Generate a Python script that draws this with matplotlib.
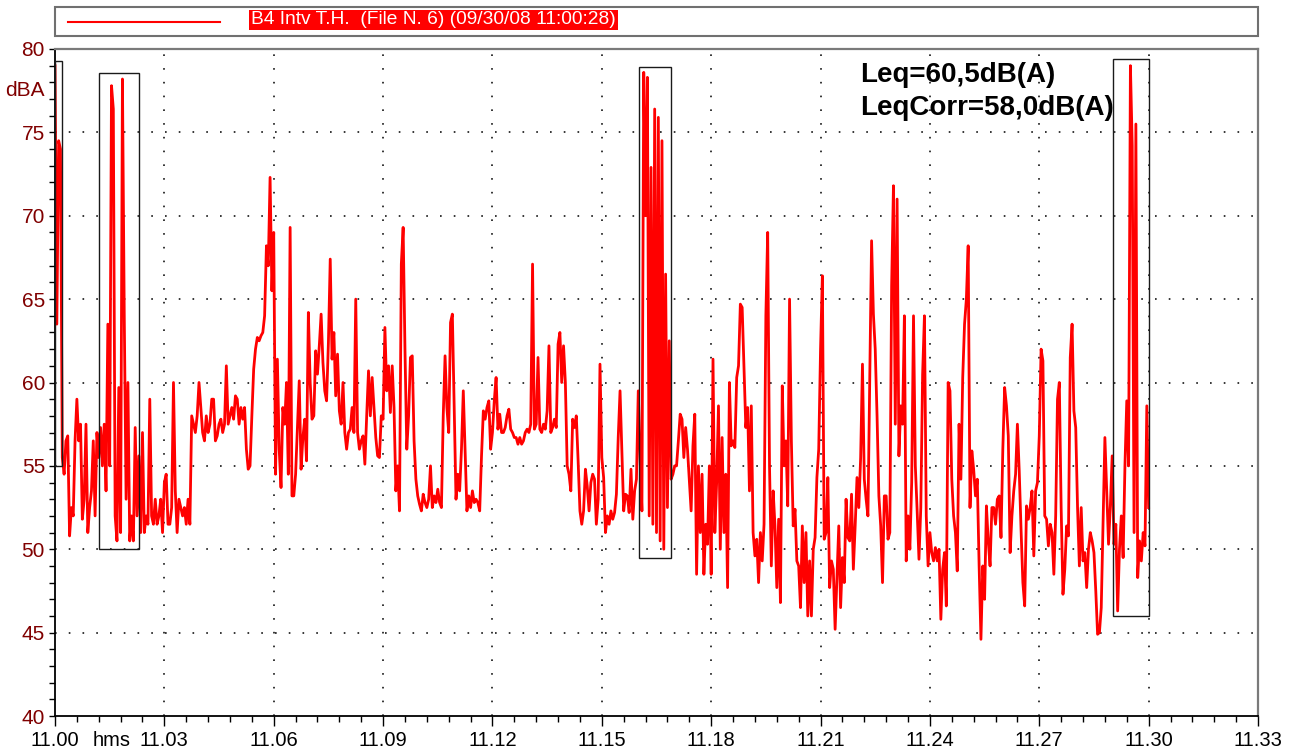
import numpy as np
import matplotlib
matplotlib.use("Agg")
import matplotlib.pyplot as plt
from matplotlib.patches import Rectangle
from matplotlib.lines import Line2D
from matplotlib.ticker import MultipleLocator
from matplotlib import font_manager

# ---------------- data (minutes after 11:00, one reading every 3 s) ----------------
step_min = 0.05

seg_00_03 = [79, 63.5, 74.5, 74, 55.5, 54.5, 56.5, 56.8, 50.8, 52.5,
             52, 56.5, 59, 56.5, 57.5, 51.8, 53, 57.5, 51, 52.5,
             53.5, 56.5, 52, 57, 55.5, 57.3, 55, 57.5, 53.5, 63.5,
             55, 77.8, 76.4, 52, 50.5, 59.7, 51, 78.2, 64, 53,
             60, 50.5, 52, 50.5, 57.3, 52, 55.6, 51, 57, 51,
             52, 51.5, 59, 52, 51.5, 53, 51.5, 52, 53, 51]
seg_03_06 = [54, 54.5, 51.5, 51.5, 52.5, 60, 53.5, 51, 53, 52.5,
             52, 52.5, 51.5, 53, 51.5, 58, 57.5, 57, 58, 60,
             58.5, 57, 56.5, 58, 57, 57.5, 59, 59, 56.5, 56.8,
             57.5, 57.8, 57, 57.5, 61, 57.5, 58, 58.5, 57.8, 59.2,
             59, 57.5, 58.5, 57.8, 58.5, 56, 54.8, 55, 58, 60.8,
             62, 62.7, 62.5, 62.8, 63, 64, 68.2, 67, 72.3, 65.5]
seg_06_09 = [69, 54.5, 61.4, 56, 53.7, 58.5, 57.5, 60, 54.5, 69.3,
             53.2, 53.2, 54.5, 57.3, 60.1, 54.8, 56.7, 57.8, 55.3, 64.2,
             60, 57.8, 58, 61.9, 60.5, 62.2, 64.1, 61.2, 59.5, 58.9,
             62.4, 67.4, 61.4, 63, 59.2, 61.7, 58.3, 57.5, 60, 57,
             56, 57, 57.2, 58.5, 57, 65, 57, 56, 56.5, 56.8,
             55.1, 58, 60.7, 58, 60.3, 58.5, 56.7, 55.6, 55.5, 58]
seg_09_12 = [57.8, 63.3, 59.5, 61, 58.2, 61, 58.5, 53.5, 55, 52.3,
             67.1, 69.3, 62, 56, 58, 61.5, 61.6, 56.5, 54.2, 53.2,
             52.7, 52.3, 53.3, 52.8, 52.5, 53, 55, 52.5, 53.2, 52.8,
             53.6, 52.8, 52.5, 58, 61.6, 58.5, 57, 63.6, 64.1, 58.5,
             53, 54.5, 53.5, 56, 59.5, 56, 52.3, 53.2, 52.5, 53.5,
             52.8, 53, 52.8, 52.3, 55.6, 58.3, 57.8, 58.5, 58.9, 56]
seg_12_15 = [57, 58.9, 60.3, 57.2, 58.1, 57, 57, 57.3, 58, 58.4,
             57.2, 57, 56.7, 56.7, 56.3, 56.7, 56.3, 56.5, 57, 57.2,
             57, 57.5, 67.1, 57.2, 57.5, 61.5, 57.2, 57, 57.5, 57.2,
             58.3, 62.2, 57, 57.3, 57.8, 57.3, 62.3, 63, 60, 62.2,
             60, 55, 54.5, 53.5, 57.8, 57.3, 58, 55.3, 52.3, 51.5,
             52.3, 54.8, 53.8, 52.3, 54, 54.5, 54.2, 51.5, 53, 61.1]
seg_15_18 = [55.5, 54.3, 51, 52, 51.5, 52.3, 51.8, 52.2, 53.3, 56.7,
             59.5, 56, 52.3, 53.3, 53.2, 52.2, 54.8, 51.8, 53.5, 54.2,
             59.5, 55.5, 52.3, 78.6, 70, 78.3, 52, 72.9, 51.5, 76.4,
             51, 75.9, 50.5, 74.5, 50, 66.5, 52.5, 62.5, 54.2, 54.5,
             55, 55, 56.5, 58.1, 57.8, 55.5, 57.3, 56, 54.2, 52.3,
             56.2, 58.1, 48.5, 55, 51, 54.5, 48.5, 51.5, 50.3, 55]
seg_18_21 = [48.5, 61.4, 51, 54, 58.6, 50, 56.7, 51, 54.5, 47.7,
             60, 56.2, 56.5, 56.1, 60.3, 61, 64.7, 64.5, 60.8, 57.3,
             58.5, 53.5, 58.6, 51, 49.6, 50.6, 48, 51, 49.3, 51.5,
             64, 69, 55, 49, 53.5, 51.4, 47.7, 51.8, 46.8, 59.8,
             55, 56.5, 52.6, 65, 56.5, 51.4, 52.4, 49.3, 49, 46.5,
             51.4, 48, 51, 46, 49.3, 46, 50, 50.7, 54.3, 56]
seg_21_24 = [62, 66.4, 50.6, 51, 54.3, 47.7, 49.3, 48.8, 45.2, 48.3,
             51.4, 46.5, 49.5, 48, 53, 50.7, 50.5, 53.3, 48.8, 51.4,
             54.3, 52.5, 55.5, 61.1, 54.2, 53, 52, 60.3, 68.5, 64.1,
             62, 58, 53.2, 51.4, 48, 53.2, 53.2, 50.6, 51, 65.8,
             71.8, 57.5, 71, 55.6, 58.6, 57.5, 64, 49.3, 52, 50,
             54, 64, 55, 52.3, 49.4, 52.5, 60.5, 64, 52, 49]
seg_24_27 = [51, 49.8, 49.3, 50.1, 49.3, 50, 45.8, 48.8, 49.8, 46.6,
             60, 59.5, 54.2, 52, 51, 48.7, 57.5, 54.2, 60.3, 63.5,
             65, 68.2, 52.5, 55.9, 54.8, 53.2, 54.2, 49, 44.6, 49,
             47, 52.6, 50.5, 49, 52.5, 52.5, 51.5, 53, 53.2, 50.7,
             56, 59.7, 58.6, 56.8, 49.8, 52, 53.5, 54.5, 57.5, 54.7,
             51.2, 48, 46.6, 52.6, 51.8, 52.5, 53.5, 49.6, 53.5, 54]
seg_27_30 = [56.8, 62, 61.3, 52, 51.8, 50.2, 51.5, 51, 48.5, 52,
             59, 60, 52.5, 47.3, 48.8, 51.4, 50.8, 61.5, 63.5, 58.3,
             57.3, 52.5, 49, 52.5, 49.3, 49.8, 47.7, 50, 51, 50.5,
             49.8, 47.5, 44.9, 45, 46.5, 51.5, 56.7, 53.5, 50.3, 52.6,
             55.6, 50.3, 51.5, 46.3, 50, 52, 49.5, 55, 58.9, 55,
             79, 74.2, 51, 75.5, 48.3, 50.5, 49.3, 51, 50.2, 58.6,
             52.5]

# event boxes: (start min, end min, low dB, high dB)
event_boxes = [(0.0, 0.19, 55.0, 79.3),
               (1.215, 2.30, 50.0, 78.55),
               (16.01, 16.89, 49.5, 78.9),
               (29.03, 30.02, 46.0, 79.4)]

x_major = list(range(0, 34, 3))
x_labels = ["11.%02d" % m for m in x_major]
y_major = list(range(40, 81, 5))
series_label = "B4 Intv T.H.  (File N. 6) (09/30/08 11:00:28)"
leq_lines = ["Leq=60,5dB(A)", "LeqCorr=58,0dB(A)"]

# ---------------- fonts ----------------
names = {f.name for f in font_manager.fontManager.ttflist}
regular = "Liberation Sans" if "Liberation Sans" in names else "DejaVu Sans"
narrow = "Liberation Sans Narrow" if "Liberation Sans Narrow" in names else regular
plt.rcParams["lines.scale_dashes"] = False

# ---------------- drawing ----------------
values = np.concatenate([seg_00_03, seg_03_06, seg_06_09, seg_09_12, seg_12_15,
                         seg_15_18, seg_18_21, seg_21_24, seg_24_27, seg_27_30])
t = np.arange(len(values)) * step_min

W, H = 1300, 756
fig = plt.figure(figsize=(W / 100, H / 100), dpi=100)
fig.patch.set_facecolor("white")
ax = fig.add_axes([55 / W, 1 - 716 / H, 1203 / W, 667 / H])
ax.set_xlim(0, 33)
ax.set_ylim(40, 80)

for xv in x_major[1:-1]:
    ax.axvline(xv, color="black", lw=1.1, dashes=(1.2, 8.7), zorder=1)
for yv in y_major[1:-1]:
    ax.axhline(yv, color="black", lw=1.1, dashes=(1.2, 8.7), zorder=1)

ax.plot(t, values, color="#ff0000", lw=2.0, zorder=3)

for (t0, t1, v0, v1) in event_boxes:
    ax.add_patch(Rectangle((t0, v0), t1 - t0, v1 - v0, fill=False,
                           edgecolor="#1a1a1a", lw=1.0, zorder=4, clip_on=False))

xsize = 15 if narrow != regular else 14.5
ax.set_xticks(x_major)
ax.set_xticklabels(x_labels, fontfamily=narrow, fontsize=xsize, color="black")
ax.xaxis.set_minor_locator(MultipleLocator(0.6))
ax.set_yticks(y_major)
ax.set_yticklabels([str(v) for v in y_major], fontfamily=regular, fontsize=15,
                   color="#800000")
ax.yaxis.set_minor_locator(MultipleLocator(1))
ax.tick_params(axis="x", which="major", direction="out", length=7.5, width=1.0, pad=3.5)
ax.tick_params(axis="x", which="minor", direction="out", length=4.5, width=1.0)
ax.tick_params(axis="y", which="both", direction="out", length=4.2, width=1.0, pad=3)

for side in ("left", "bottom"):
    ax.spines[side].set_color("black")
    ax.spines[side].set_linewidth(1.3)
for side in ("top", "right"):
    ax.spines[side].set_color("#7a7a7a")
    ax.spines[side].set_linewidth(1.6)

# "hms" sits on the same line as the tick labels
first_lbl = ax.get_xticklabels()[0]
fig.canvas.draw()
lbl_box = first_lbl.get_window_extent()
hms_y = (lbl_box.y0 + lbl_box.y1) / 2 / H
fig.text(112 / W, hms_y, "hms", ha="center", va="center",
         fontfamily=narrow, fontsize=xsize, color="black")
fig.text(45 / W, 1 - 90 / H, "dBA", ha="right", va="center",
         fontfamily=regular, fontsize=15, color="#800000")

fig.text(860 / W, 1 - 82 / H, leq_lines[0], ha="left", va="baseline",
         fontfamily=regular, fontsize=20, fontweight="bold", color="black")
fig.text(860 / W, 1 - 115 / H, leq_lines[1], ha="left", va="baseline",
         fontfamily=regular, fontsize=20, fontweight="bold", color="black")

# legend strip
fig.add_artist(Rectangle((55 / W, 1 - 36 / H), 1203 / W, 29 / H,
                         transform=fig.transFigure, facecolor="white",
                         edgecolor="#707070", lw=1.5))
fig.add_artist(Line2D([68 / W, 220 / W], [1 - 22 / H, 1 - 22 / H],
                      transform=fig.transFigure, color="#ff0000", lw=1.5))
leg = fig.text(251 / W, 1 - 20 / H, series_label, ha="left", va="center",
               color="white", fontfamily=narrow, fontsize=14,
               bbox=dict(facecolor="#ff0000", edgecolor="none", pad=1.4))
renderer = fig.canvas.get_renderer()
w = leg.get_window_extent(renderer).width
leg.set_fontsize(min(15, 14 * 366 / w))

fig.savefig("out.png", dpi=100, facecolor="white")
